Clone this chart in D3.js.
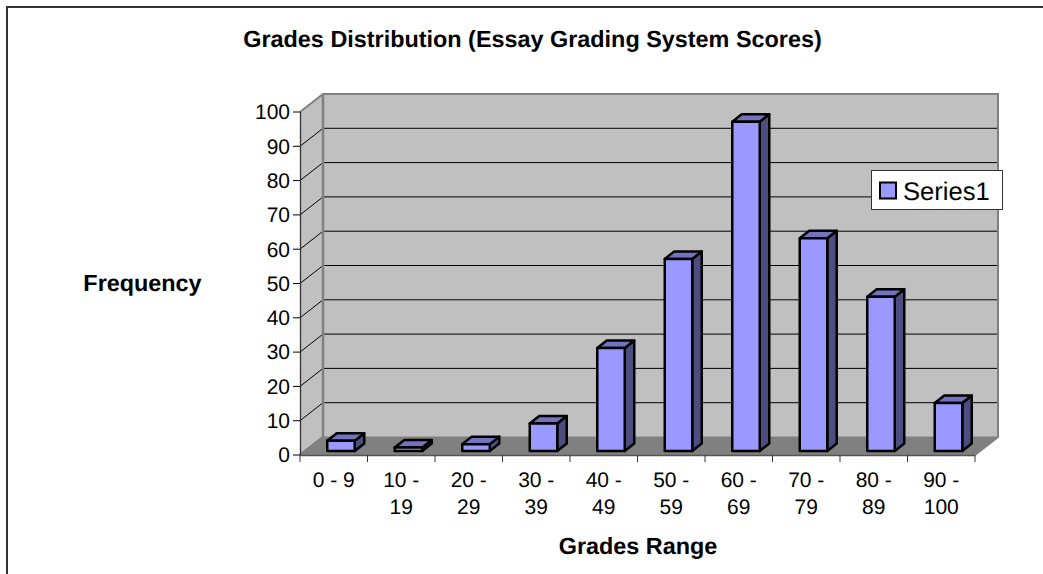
<!DOCTYPE html>
<html lang="en">
<head>
  <meta charset="UTF-8">
  <title>Grades Distribution</title>
  <style>
body { margin: 0; background: #fff; font-family: "Liberation Sans", Arial, sans-serif; }
svg { display: block; text-rendering: geometricPrecision; }
.title, .axis-title { font-weight: bold; font-size: 23.4px; text-anchor: middle; fill: #000; }
.tick-label { font-size: 21px; fill: #000; }
  </style>
</head>
<body>
<div id="wrapper"></div>
<script src="https://cdnjs.cloudflare.com/ajax/libs/d3/7.8.5/d3.min.js"></script>
<script>
const categories = ["0 - 9", "10 - 19", "20 - 29", "30 - 39", "40 - 49", "50 - 59", "60 - 69", "70 - 79", "80 - 89", "90 - 100"]
const values = [3, 1, 2, 8, 30, 56, 96, 62, 45, 14]
const yTicks = [0, 10, 20, 30, 40, 50, 60, 70, 80, 90, 100]
const seriesName = "Series1"

const width = 1043, height = 574
const svg = d3.select("#wrapper").append("svg").attr("width", width).attr("height", height)

// frame, only top and left are in view
svg.append("path").attr("d", "M7,574V7H1043").attr("fill", "none").attr("stroke", "#333").attr("stroke-width", 2)

// front plane of the 3D box, back wall sits depth px away
const x = d3.scaleBand().domain(categories).range([300, 975])
const y = d3.scaleLinear().domain([0, 100]).range([455, 112])
const depth = { x: 23, y: -18 }
const x0 = 300, x1 = 975

// walls
svg.append("polygon").attr("fill", "#c0c0c0")
  .attr("points", [[x0, y(100)], [x0 + depth.x, y(100) + depth.y], [x1 + depth.x, y(100) + depth.y], [x1 + depth.x, y(0) + depth.y], [x0 + depth.x, y(0) + depth.y], [x0, y(0)]].join(" "))
svg.append("polygon").attr("fill", "#808080")
  .attr("points", [[x0, y(0)], [x0 + depth.x, y(0) + depth.y], [x1 + depth.x, y(0) + depth.y], [x1, y(0)]].join(" "))

// gridlines on side and back wall
yTicks.filter(d => d > 0 && d < 100).forEach(d => {
  svg.append("path").attr("fill", "none").attr("stroke", "#000").attr("stroke-width", 1)
    .attr("d", `M${x0},${y(d)}L${x0 + depth.x},${y(d) + depth.y}H${x1 + depth.x}`)
})

// wall borders
svg.append("path").attr("fill", "none").attr("stroke", "#808080").attr("stroke-width", 2)
  .attr("d", `M${x0},${y(100)}L${x0 + depth.x},${y(100) + depth.y}H${x1 + depth.x}V${y(0) + depth.y}L${x1},${y(0)}`)
svg.append("path").attr("fill", "none").attr("stroke", "#808080").attr("stroke-width", 2.5)
  .attr("d", `M${x0 + depth.x},${y(100) + depth.y}V${y(0) + depth.y}L${x0},${y(0)}`)
svg.append("path").attr("fill", "none").attr("stroke", "#808080").attr("stroke-width", 1)
  .attr("d", `M${x0 + depth.x},${y(0) + depth.y}H${x1 + depth.x}`)

// axes
const yAxis = svg.append("g")
yAxis.append("line").attr("x1", x0 + 0.5).attr("x2", x0 + 0.5).attr("y1", y(100)).attr("y2", y(0)).attr("stroke", "#333").attr("stroke-width", 1.3)
yTicks.forEach(d => {
  yAxis.append("line").attr("x1", x0 - 7).attr("x2", x0).attr("y1", y(d)).attr("y2", y(d)).attr("stroke", "#000")
  yAxis.append("text").attr("class", "tick-label").attr("x", x0 - 10).attr("y", y(d)).attr("text-anchor", "end").attr("dy", "0.35em").text(d)
})

const xAxis = svg.append("g")
xAxis.append("line").attr("x1", x0).attr("x2", x1).attr("y1", y(0) + 0.5).attr("y2", y(0) + 0.5).attr("stroke", "#555").attr("stroke-width", 1.3)
x.domain().concat("end").forEach((c, i) => {
  const px = x0 + i * x.step()
  xAxis.append("line").attr("x1", px).attr("x2", px).attr("y1", y(0)).attr("y2", y(0) + 7).attr("stroke", "#333")
})
categories.forEach(c => {
  // long labels wrap after the dash
  const parts = c === "0 - 9" ? [c] : [c.replace(/ - .*/, " -"), c.replace(/.* - /, "")]
  parts.forEach((t, i) => {
    xAxis.append("text").attr("class", "tick-label").attr("text-anchor", "middle")
      .attr("x", x(c) + x.bandwidth() / 2).attr("y", 487 + i * 27).text(t)
  })
})

// bars
const barW = 27.5
const barInset = 27.25
const barLift = 4
const barDepth = { x: 9.5, y: -7.5 }
const barColor = { front: "#9999ff", top: "#7373bf", side: "#4d4d80" }
const bars = svg.selectAll(".bar").data(values).enter().append("g").attr("class", "bar")
  .attr("stroke", "#000").attr("stroke-width", 2.5).attr("stroke-linejoin", "round")
bars.each(function (d, i) {
  const g = d3.select(this)
  const left = x(categories[i]) + barInset
  const right = left + barW
  const bottom = y(0) - barLift
  const top = y(d) - barLift
  g.append("polygon").attr("fill", barColor.side)
    .attr("points", [[right, top], [right + barDepth.x, top + barDepth.y], [right + barDepth.x, bottom + barDepth.y], [right, bottom]].join(" "))
  g.append("polygon").attr("fill", barColor.top)
    .attr("points", [[left, top], [left + barDepth.x, top + barDepth.y], [right + barDepth.x, top + barDepth.y], [right, top]].join(" "))
  g.append("rect").attr("fill", barColor.front).attr("x", left).attr("y", top).attr("width", barW).attr("height", bottom - top)
})

// titles
svg.append("text").attr("class", "title").attr("x", 532.5).attr("y", 46.5).text("Grades Distribution (Essay Grading System Scores)")
svg.append("text").attr("class", "axis-title").attr("x", 142.5).attr("y", 291).text("Frequency")
svg.append("text").attr("class", "axis-title").attr("x", 638).attr("y", 554).text("Grades Range")

// legend
const legend = svg.append("g")
legend.append("rect").attr("x", 871.5).attr("y", 170.5).attr("width", 131).attr("height", 39).attr("fill", "#fff").attr("stroke", "#333")
legend.append("rect").attr("x", 880).attr("y", 182.5).attr("width", 16).attr("height", 16).attr("fill", barColor.front).attr("stroke", "#000").attr("stroke-width", 2)
legend.append("text").attr("x", 903).attr("y", 200).attr("font-size", 25.6).text(seriesName)
</script>
</body>
</html>
